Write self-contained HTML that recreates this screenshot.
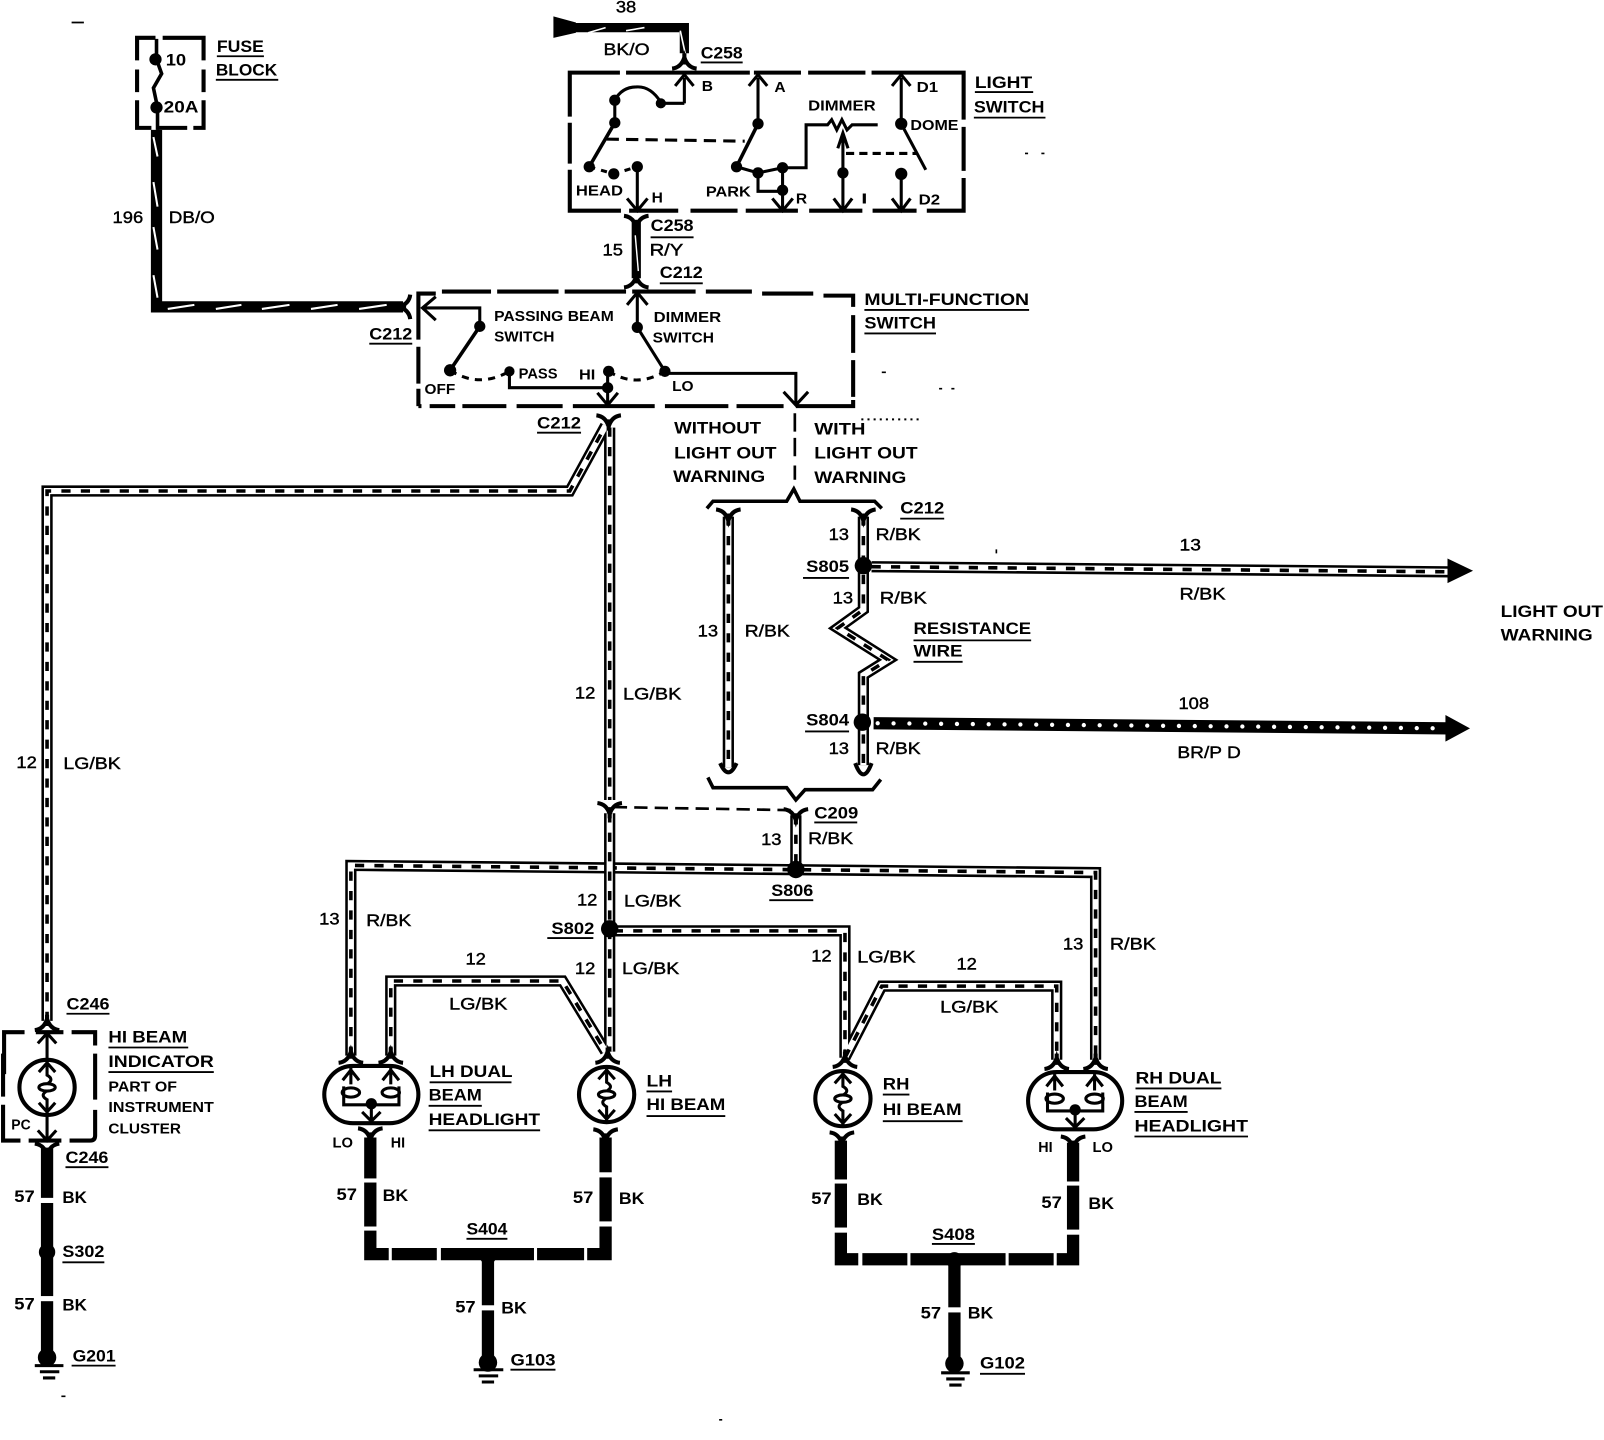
<!DOCTYPE html>
<html><head><meta charset="utf-8"><title>Headlight wiring diagram</title>
<style>
html,body{margin:0;padding:0;background:#fff}
svg{display:block}
text{font-family:"Liberation Sans",sans-serif;font-size:16.5px;font-weight:bold;fill:#000}
text.n{font-weight:normal;stroke:#000;stroke-width:.4}
text.s{font-size:14.5px}
</style></head><body>
<svg xmlns="http://www.w3.org/2000/svg" width="1604" height="1440" viewBox="0 0 1568 1407.7" preserveAspectRatio="none">
<defs>
<path id="cu" d="M-12 -7 Q-3 -6 0 4 Q3 -6 12 -7 M0 -3V8" fill="none" stroke="#000" stroke-width="4"/>
<g id="hb" fill="none" stroke="#000">
<ellipse rx="27" ry="27" stroke-width="4"/>
<path d="M0 -27 V-12 Q7 -8 1 -4 M0 27 V12 Q-7 8 -1 4" stroke-width="3"/>
<ellipse rx="8" ry="3.6" stroke-width="3"/>
<path d="M-8 -15 L0 -24 L8 -15 M-8 15 L0 24 L8 15" stroke-width="3"/>
</g>
<g id="dl" fill="none" stroke="#000">
<rect x="-46" y="-28" width="92" height="56" rx="28" stroke-width="4"/>
<path d="M-20 -26 V-10 M19 -26 V-10 M-28 -14 L-20 -24 L-12 -14 M11 -14 L19 -24 L27 -14" stroke-width="3"/>
<ellipse cx="-20" cy="-2" rx="8.5" ry="4.5" stroke-width="3"/>
<ellipse cx="19" cy="-2" rx="8.5" ry="4.5" stroke-width="3"/>
<path d="M-27 -8 V10 H27 V-8 M0 10 V27 M-9 17 L0 26 L9 17" stroke-width="3"/>
<circle cy="9" r="5.5" fill="#000" stroke="none"/>
</g>
<g id="hw1">
<path d="M343 1032 V846 L1071 853 V1036"/>
</g>
<g id="hw2">
<path d="M778 797 V848"/>
<path d="M46 998 V480 H557 L592 416"/>
<path d="M596 418 V782 M596 795 V1028"/>
<path d="M600 910 H826 V1034"/>
<path d="M382 1032 V959 H550 L592 1028"/>
<path d="M826 1034 L862 964 H1033 V1036"/>
<path d="M712 505 V750"/>
<path d="M844 505 V596 L819 614 L868 645 L844 660 V748"/>
<path d="M852 554 L1418 559"/>
</g>
</defs>
<rect width="1568" height="1408" fill="#fff"/>

<!-- hollow wires -->
<g fill="none">
<use href="#hw1" stroke="#000" stroke-width="11"/>
<use href="#hw1" stroke="#fff" stroke-width="6"/>
<use href="#hw1" stroke="#000" stroke-width="3.5" stroke-dasharray="9 10"/>
<use href="#hw2" stroke="#000" stroke-width="11"/>
<use href="#hw2" stroke="#fff" stroke-width="6"/>
<use href="#hw2" stroke="#000" stroke-width="3.5" stroke-dasharray="9 10"/>
</g>
<polygon points="1415,546 1440,558 1415,570" fill="#000"/>

<!-- 108 BR/PD -->
<path d="M854 707 L1416 712" stroke="#000" stroke-width="12" fill="none"/>
<path d="M858 707 L1412 712" stroke="#fff" stroke-width="4.2" stroke-linecap="round" stroke-dasharray="0 15.5" fill="none"/>
<polygon points="1413,699 1437,712 1413,725" fill="#000"/>

<!-- DB/O -->
<path d="M153 127 V300 H394" stroke="#000" stroke-width="11" fill="none"/>
<path d="M150 134 L154 153 M150 178 L154 202 M150 222 L154 244 M150 269 L154 291 M164 302 L190 298 M211 302 L236 298 M256 302 L283 298 M304 302 L330 298 M351 302 L378 298" stroke="#fff" stroke-width="2" fill="none"/>

<!-- BK/O -->
<polygon points="541,16 563,22 563,32 541,37" fill="#000"/>
<path d="M560 27 H669 V52" stroke="#000" stroke-width="9" fill="none"/>
<path d="M575 32 L592 27 M612 30 L630 27 M665 30 L670 53" stroke="#fff" stroke-width="1.6" fill="none"/>

<!-- R/Y 15 -->
<path d="M622 215 V272" stroke="#000" stroke-width="9" fill="none"/>
<path d="M621 230 L624 265" stroke="#fff" stroke-width="1.4"/>

<!-- black ground wires -->
<g fill="none" stroke="#000" stroke-width="12">
<path d="M46 1122 V1330"/>
<path d="M362 1112 V1226 H592 V1112"/>
<path d="M477 1226 V1328"/>
<path d="M822 1115 V1231 H1049 V1117"/>
<path d="M933 1231 V1333"/>
</g>
<g fill="#fff">
<rect x="36" y="1171" width="20" height="5"/><rect x="36" y="1267" width="20" height="5"/>
<rect x="350" y="1152" width="24" height="4"/><rect x="350" y="1199" width="24" height="4"/>
<rect x="380" y="1216" width="3" height="20"/><rect x="427" y="1216" width="4" height="20"/><rect x="522" y="1216" width="3" height="20"/><rect x="571" y="1216" width="3" height="20"/>
<rect x="582" y="1146" width="22" height="5"/><rect x="582" y="1194" width="22" height="5"/>
<rect x="467" y="1276" width="20" height="5"/>
<rect x="812" y="1153" width="22" height="4"/><rect x="812" y="1200" width="22" height="5"/>
<rect x="839" y="1222" width="4" height="20"/><rect x="887" y="1222" width="3" height="20"/><rect x="983" y="1222" width="3" height="20"/><rect x="1030" y="1222" width="3" height="20"/>
<rect x="1039" y="1155" width="22" height="4"/><rect x="1039" y="1202" width="22" height="5"/>
<rect x="923" y="1278" width="20" height="5"/>
</g>

<!-- splices and ground dots -->
<g fill="#000">
<circle cx="844" cy="553" r="8.5"/><circle cx="843" cy="706" r="8.5"/>
<circle cx="778" cy="850" r="8.5"/><circle cx="596" cy="908" r="8.5"/>
<circle cx="46" cy="1224" r="8"/><circle cx="477" cy="1228" r="8"/><circle cx="933" cy="1232" r="8"/>
<circle cx="46" cy="1327" r="9"/><circle cx="477" cy="1332" r="9"/><circle cx="933" cy="1333" r="9"/>
</g>
<path d="M34 1335 H62 M39 1341 H58 M42 1347 H54 M463 1339 H492 M468 1345 H487 M471 1351 H483 M920 1342 H948 M925 1348 H943 M928 1354 H940" stroke="#000" stroke-width="3" fill="none"/>

<!-- connectors -->
<use href="#cu" transform="translate(669,60) rotate(180)"/>
<use href="#cu" transform="translate(622,218)"/>
<use href="#cu" transform="translate(622,274) rotate(180)"/>
<use href="#cu" transform="translate(394,300) rotate(90)"/>
<use href="#cu" transform="translate(595,413)"/>
<use href="#cu" transform="translate(712,505)"/>
<use href="#cu" transform="translate(844,505)"/>
<path d="M704 746 Q708 755 712 755 Q716 755 720 746 M836 746 Q840 757 844 757 Q848 757 852 746" stroke="#000" stroke-width="4" fill="none"/>
<use href="#cu" transform="translate(778,798)"/>
<use href="#cu" transform="translate(596,792)"/>
<use href="#cu" transform="translate(46,1000) rotate(180)"/>
<use href="#cu" transform="translate(46,1125)"/>
<use href="#cu" transform="translate(343,1032) rotate(180)"/>
<use href="#cu" transform="translate(382,1032) rotate(180)"/>
<use href="#cu" transform="translate(594,1032) rotate(180)"/>
<use href="#cu" transform="translate(826,1036) rotate(180)"/>
<use href="#cu" transform="translate(1033,1038) rotate(180)"/>
<use href="#cu" transform="translate(1071,1038) rotate(180)"/>
<use href="#cu" transform="translate(362,1110)"/>
<use href="#cu" transform="translate(592,1111)"/>
<use href="#cu" transform="translate(823,1114)"/>
<use href="#cu" transform="translate(1049,1118)"/>
<path d="M600 789 L776 792" stroke="#000" stroke-width="2.6" stroke-dasharray="13 7" fill="none"/>

<!-- braces + divider -->
<g fill="none" stroke="#000" stroke-width="3.5">
<path d="M691 497 L697 490 H769 L776 478 L782 490 H855 L862 497"/>
<path d="M692 760 L697 770 H769 L778 782 L787 772 H853 L861 762"/>
</g>
<path d="M777 404 V422 M777 428 V446 M777 455 V469" stroke="#000" stroke-width="2.6" fill="none"/>

<!-- fuse block -->
<g fill="none" stroke="#000" stroke-width="4">
<path d="M134 59 V37 H152 M159 37 H199 V59 M134 68 V90 M199 68 V90 M134 98 V125 H148 M153 125 H183 M189 125 H199 V98"/>
</g>
<path d="M153 38 V58 L158 72 L150 86 L154 105 V127" stroke="#000" stroke-width="3.5" fill="none"/>
<circle cx="152" cy="58" r="6"/><circle cx="153" cy="105" r="6"/>

<!-- light switch -->
<g fill="none" stroke="#000" stroke-width="4">
<path d="M557 114 V71 H606 M612 71 H733 M737 71 H783 M790 71 H846 M852 71 H942 V117 M557 120 V160 M557 166 V206 H607 M615 206 H663 M675 206 H721 M729 206 H780 M791 206 H843 M853 206 H896 M906 206 H942 V174 M942 124 V167"/>
</g>
<g fill="none" stroke="#000" stroke-width="3">
<path d="M669 101 V76 M660 84 L669 73 L678 84 M646 101 H669 M646 100 Q636 84 622 85 Q608 85 601 98 V120"/>
<path d="M601 120 L576 163" stroke-width="3.5"/>
<path d="M593 136 L728 138" stroke-dasharray="12 7"/>
<path d="M576 163 L600 170 L623 163" stroke-dasharray="6 6"/>
<path d="M623 163 V204 M613 194 L623 206 L633 194"/>
<path d="M741 76 V121 M732 84 L741 73 L750 84"/>
<path d="M741 121 L720 163" stroke-width="3.5"/>
<path d="M720 163 L741 169 V187 H765 M741 169 L765 164" />
<path d="M765 164 V204 M755 194 L765 206 L775 194"/>
<path d="M765 164 H788 V122 H809 L813 117 L818 127 L823 117 L828 127 L833 122 H858"/>
<path d="M824 130 V204 M815 194 L824 206 L833 194 M819 145 L824 130 L829 145"/>
<path d="M827 150 H897" stroke-dasharray="8 5"/>
<path d="M881 76 V121 M872 84 L881 73 L890 84"/>
<path d="M881 121 L905 166" stroke-width="3"/>
<path d="M881 170 V204 M872 194 L881 206 L890 194"/>
</g>
<g fill="#000">
<circle cx="646" cy="101" r="5"/><circle cx="601" cy="98" r="5.5"/><circle cx="601" cy="120" r="5.5"/>
<circle cx="576" cy="163" r="5.5"/><circle cx="600" cy="170" r="5.5"/><circle cx="623" cy="163" r="5.5"/>
<circle cx="741" cy="121" r="5.5"/><circle cx="720" cy="163" r="5.5"/><circle cx="741" cy="169" r="5.5"/>
<circle cx="765" cy="164" r="5.5"/><circle cx="765" cy="186" r="5.5"/><circle cx="824" cy="169" r="5.5"/>
<circle cx="881" cy="121" r="6"/><circle cx="881" cy="170" r="6"/>
</g>

<!-- multi-function switch -->
<g fill="none" stroke="#000" stroke-width="4">
<path d="M409 332 V287 H426 M432 285 H480 M486 285 H546 M552 285 H612 M618 285 H680 M690 285 H735 M745 287 H795 M805 289 H834 V300 M834 308 V345 M834 352 V388 M834 391 V397 H778 M766 397 H720 M712 397 H650 M640 397 H560 M550 397 H505 M495 397 H452 M445 397 H420 M409 397 H412 M409 339 V375 M409 380 V397"/>
</g>
<g fill="none" stroke="#000" stroke-width="3">
<path d="M414 301 H469 V319 M426 290 L413 301 L426 313"/>
<path d="M469 319 L440 362" stroke-width="3.5"/>
<path d="M440 362 Q468 380 498 363" stroke-dasharray="7 6"/>
<path d="M498 363 V379 H594"/>
<path d="M594 363 V395 M584 384 L594 396 L604 384"/>
<path d="M595 363 Q622 380 650 363" stroke-dasharray="7 6"/>
<path d="M650 363 L623 320" stroke-width="3"/>
<path d="M623 320 V288 M613 298 L623 286 L633 298"/>
<path d="M650 365 H778 V395 M766 383 L778 396 L790 383"/>
</g>
<g fill="#000">
<circle cx="469" cy="319" r="5.5"/><circle cx="440" cy="362" r="6"/><circle cx="498" cy="363" r="5"/>
<circle cx="595" cy="363" r="5.5"/><circle cx="594" cy="379" r="5.5"/><circle cx="650" cy="363" r="5.5"/><circle cx="623" cy="320" r="5.5"/>
</g>

<!-- lamps -->
<g fill="none" stroke="#000" stroke-width="4">
<path d="M4 1050 V1009 H24 M35 1009 H62 M70 1009 H93 V1022 M93 1030 V1075 M93 1085 V1110 Q93 1115 88 1115 H68 M60 1115 H28 M20 1115 H3 V1080 M3 1030 V1072"/>
</g>
<use href="#hb" transform="translate(46,1063)"/>
<path d="M46 1012 V1036 M46 1090 V1114 M37 1020 L46 1010 L55 1020 M37 1105 L46 1115 L55 1105" stroke="#000" stroke-width="3" fill="none"/>
<use href="#dl" transform="translate(363,1070)"/>
<use href="#hb" transform="translate(593,1070)"/>
<use href="#hb" transform="translate(824,1074)"/>
<use href="#dl" transform="translate(1051,1076)"/>

<!-- specks -->
<path d="M70 22 H82 M974 537 V541 M703 1388 H706 M60 1365 H64 M1002 150 H1005 M1018 150 H1021 M862 364 H866 M918 380 H921 M930 380 H933" stroke="#000" stroke-width="1.6" fill="none"/>
<path d="M842 410 H898" stroke="#000" stroke-width="2" stroke-dasharray="2 4" fill="none"/>

<!-- labels -->
<text x="212" y="51" textLength="46" lengthAdjust="spacingAndGlyphs">FUSE</text>
<rect x="205" y="30" width="60" height="9" fill="#fff"/>
<text x="211" y="74" textLength="60" lengthAdjust="spacingAndGlyphs">BLOCK</text>
<text x="162" y="64" textLength="20" lengthAdjust="spacingAndGlyphs">10</text>
<text x="160" y="110" textLength="34" lengthAdjust="spacingAndGlyphs">20A</text>
<text class="n" x="110" y="218" textLength="30" lengthAdjust="spacingAndGlyphs">196</text>
<text class="n" x="165" y="218" textLength="45" lengthAdjust="spacingAndGlyphs">DB/O</text>
<text class="n" x="602" y="12" textLength="20" lengthAdjust="spacingAndGlyphs">38</text>
<text class="n" x="590" y="54" textLength="45" lengthAdjust="spacingAndGlyphs">BK/O</text>
<text x="685" y="57" textLength="41" lengthAdjust="spacingAndGlyphs">C258</text>
<text x="953" y="86" textLength="56" lengthAdjust="spacingAndGlyphs">LIGHT</text>
<text x="952" y="110" textLength="69" lengthAdjust="spacingAndGlyphs">SWITCH</text>
<text class="s" x="686" y="89" textLength="11" lengthAdjust="spacingAndGlyphs">B</text>
<text class="s" x="757" y="90" textLength="11" lengthAdjust="spacingAndGlyphs">A</text>
<text class="s" x="896" y="90" textLength="21" lengthAdjust="spacingAndGlyphs">D1</text>
<text class="s" x="790" y="108" textLength="66" lengthAdjust="spacingAndGlyphs">DIMMER</text>
<text class="s" x="890" y="127" textLength="47" lengthAdjust="spacingAndGlyphs">DOME</text>
<text class="s" x="563" y="191" textLength="46" lengthAdjust="spacingAndGlyphs">HEAD</text>
<text class="s" x="637" y="198" textLength="11" lengthAdjust="spacingAndGlyphs">H</text>
<text class="s" x="690" y="192" textLength="44" lengthAdjust="spacingAndGlyphs">PARK</text>
<text class="s" x="778" y="199" textLength="11" lengthAdjust="spacingAndGlyphs">R</text>
<text class="s" x="842" y="199" textLength="6" lengthAdjust="spacingAndGlyphs">I</text>
<text class="s" x="898" y="200" textLength="21" lengthAdjust="spacingAndGlyphs">D2</text>
<text x="636" y="226" textLength="42" lengthAdjust="spacingAndGlyphs">C258</text>
<text class="n" x="589" y="250" textLength="20" lengthAdjust="spacingAndGlyphs">15</text>
<text class="n" x="635" y="250" textLength="33" lengthAdjust="spacingAndGlyphs">R/Y</text>
<text x="645" y="272" textLength="42" lengthAdjust="spacingAndGlyphs">C212</text>
<text x="845" y="298" textLength="161" lengthAdjust="spacingAndGlyphs">MULTI-FUNCTION</text>
<text x="845" y="321" textLength="70" lengthAdjust="spacingAndGlyphs">SWITCH</text>
<text x="361" y="332" textLength="42" lengthAdjust="spacingAndGlyphs">C212</text>
<text class="s" x="483" y="314" textLength="117" lengthAdjust="spacingAndGlyphs">PASSING BEAM</text>
<text class="s" x="483" y="334" textLength="59" lengthAdjust="spacingAndGlyphs">SWITCH</text>
<text class="s" x="639" y="315" textLength="66" lengthAdjust="spacingAndGlyphs">DIMMER</text>
<text class="s" x="638" y="335" textLength="60" lengthAdjust="spacingAndGlyphs">SWITCH</text>
<text class="s" x="415" y="385" textLength="30" lengthAdjust="spacingAndGlyphs">OFF</text>
<text class="s" x="507" y="370" textLength="38" lengthAdjust="spacingAndGlyphs">PASS</text>
<text class="s" x="566" y="371" textLength="16" lengthAdjust="spacingAndGlyphs">HI</text>
<text class="s" x="657" y="382" textLength="21" lengthAdjust="spacingAndGlyphs">LO</text>
<text x="525" y="419" textLength="43" lengthAdjust="spacingAndGlyphs">C212</text>
<text x="659" y="424" textLength="85" lengthAdjust="spacingAndGlyphs">WITHOUT</text>
<text x="659" y="448" textLength="100" lengthAdjust="spacingAndGlyphs">LIGHT OUT</text>
<text x="658" y="471" textLength="90" lengthAdjust="spacingAndGlyphs">WARNING</text>
<text x="796" y="425" textLength="50" lengthAdjust="spacingAndGlyphs">WITH</text>
<text x="796" y="448" textLength="101" lengthAdjust="spacingAndGlyphs">LIGHT OUT</text>
<text x="796" y="472" textLength="90" lengthAdjust="spacingAndGlyphs">WARNING</text>
<text x="880" y="502" textLength="43" lengthAdjust="spacingAndGlyphs">C212</text>
<text class="n" x="810" y="528" textLength="20" lengthAdjust="spacingAndGlyphs">13</text>
<text class="n" x="856" y="528" textLength="44" lengthAdjust="spacingAndGlyphs">R/BK</text>
<text class="n" x="1153" y="538" textLength="21" lengthAdjust="spacingAndGlyphs">13</text>
<text class="n" x="1153" y="586" textLength="45" lengthAdjust="spacingAndGlyphs">R/BK</text>
<text x="788" y="559" textLength="42" lengthAdjust="spacingAndGlyphs">S805</text>
<text class="n" x="814" y="590" textLength="20" lengthAdjust="spacingAndGlyphs">13</text>
<text class="n" x="860" y="590" textLength="46" lengthAdjust="spacingAndGlyphs">R/BK</text>
<text x="893" y="620" textLength="115" lengthAdjust="spacingAndGlyphs">RESISTANCE</text>
<text x="893" y="642" textLength="48" lengthAdjust="spacingAndGlyphs">WIRE</text>
<text x="1467" y="603" textLength="100" lengthAdjust="spacingAndGlyphs">LIGHT OUT</text>
<text x="1467" y="626" textLength="90" lengthAdjust="spacingAndGlyphs">WARNING</text>
<text class="n" x="682" y="622" textLength="20" lengthAdjust="spacingAndGlyphs">13</text>
<text class="n" x="728" y="622" textLength="44" lengthAdjust="spacingAndGlyphs">R/BK</text>
<text class="n" x="562" y="683" textLength="20" lengthAdjust="spacingAndGlyphs">12</text>
<text class="n" x="609" y="684" textLength="57" lengthAdjust="spacingAndGlyphs">LG/BK</text>
<text class="n" x="16" y="751" textLength="20" lengthAdjust="spacingAndGlyphs">12</text>
<text class="n" x="62" y="752" textLength="56" lengthAdjust="spacingAndGlyphs">LG/BK</text>
<text class="n" x="1152" y="693" textLength="30" lengthAdjust="spacingAndGlyphs">108</text>
<text class="n" x="1151" y="741" textLength="62" lengthAdjust="spacingAndGlyphs">BR/P D</text>
<text x="788" y="709" textLength="42" lengthAdjust="spacingAndGlyphs">S804</text>
<text class="n" x="810" y="737" textLength="20" lengthAdjust="spacingAndGlyphs">13</text>
<text class="n" x="856" y="737" textLength="44" lengthAdjust="spacingAndGlyphs">R/BK</text>
<text x="796" y="800" textLength="43" lengthAdjust="spacingAndGlyphs">C209</text>
<text class="n" x="744" y="826" textLength="20" lengthAdjust="spacingAndGlyphs">13</text>
<text class="n" x="790" y="825" textLength="44" lengthAdjust="spacingAndGlyphs">R/BK</text>
<text x="754" y="876" textLength="41" lengthAdjust="spacingAndGlyphs">S806</text>
<text class="n" x="564" y="885" textLength="20" lengthAdjust="spacingAndGlyphs">12</text>
<text class="n" x="610" y="886" textLength="56" lengthAdjust="spacingAndGlyphs">LG/BK</text>
<text x="539" y="913" textLength="42" lengthAdjust="spacingAndGlyphs">S802</text>
<text class="n" x="312" y="904" textLength="20" lengthAdjust="spacingAndGlyphs">13</text>
<text class="n" x="358" y="905" textLength="44" lengthAdjust="spacingAndGlyphs">R/BK</text>
<text class="n" x="455" y="943" textLength="20" lengthAdjust="spacingAndGlyphs">12</text>
<text class="n" x="439" y="987" textLength="57" lengthAdjust="spacingAndGlyphs">LG/BK</text>
<text class="n" x="562" y="952" textLength="20" lengthAdjust="spacingAndGlyphs">12</text>
<text class="n" x="608" y="952" textLength="56" lengthAdjust="spacingAndGlyphs">LG/BK</text>
<text class="n" x="793" y="940" textLength="20" lengthAdjust="spacingAndGlyphs">12</text>
<text class="n" x="838" y="941" textLength="57" lengthAdjust="spacingAndGlyphs">LG/BK</text>
<text class="n" x="935" y="948" textLength="20" lengthAdjust="spacingAndGlyphs">12</text>
<text class="n" x="919" y="990" textLength="57" lengthAdjust="spacingAndGlyphs">LG/BK</text>
<text class="n" x="1039" y="928" textLength="20" lengthAdjust="spacingAndGlyphs">13</text>
<text class="n" x="1085" y="928" textLength="45" lengthAdjust="spacingAndGlyphs">R/BK</text>
<text x="65" y="987" textLength="42" lengthAdjust="spacingAndGlyphs">C246</text>
<text x="106" y="1019" textLength="77" lengthAdjust="spacingAndGlyphs">HI BEAM</text>
<text x="106" y="1043" textLength="103" lengthAdjust="spacingAndGlyphs">INDICATOR</text>
<text class="s" x="106" y="1067" textLength="67" lengthAdjust="spacingAndGlyphs">PART OF</text>
<text class="s" x="106" y="1087" textLength="103" lengthAdjust="spacingAndGlyphs">INSTRUMENT</text>
<text class="s" x="106" y="1108" textLength="71" lengthAdjust="spacingAndGlyphs">CLUSTER</text>
<text class="s" x="11" y="1104" textLength="19" lengthAdjust="spacingAndGlyphs">PC</text>
<text x="64" y="1137" textLength="42" lengthAdjust="spacingAndGlyphs">C246</text>
<text x="420" y="1053" textLength="81" lengthAdjust="spacingAndGlyphs">LH DUAL</text>
<text x="419" y="1076" textLength="52" lengthAdjust="spacingAndGlyphs">BEAM</text>
<text x="419" y="1100" textLength="109" lengthAdjust="spacingAndGlyphs">HEADLIGHT</text>
<text x="632" y="1062" textLength="25" lengthAdjust="spacingAndGlyphs">LH</text>
<text x="632" y="1085" textLength="77" lengthAdjust="spacingAndGlyphs">HI BEAM</text>
<text x="863" y="1065" textLength="26" lengthAdjust="spacingAndGlyphs">RH</text>
<text x="863" y="1090" textLength="77" lengthAdjust="spacingAndGlyphs">HI BEAM</text>
<text x="1110" y="1059" textLength="84" lengthAdjust="spacingAndGlyphs">RH DUAL</text>
<text x="1109" y="1082" textLength="52" lengthAdjust="spacingAndGlyphs">BEAM</text>
<text x="1109" y="1106" textLength="111" lengthAdjust="spacingAndGlyphs">HEADLIGHT</text>
<text class="s" x="325" y="1122" textLength="20" lengthAdjust="spacingAndGlyphs">LO</text>
<text class="s" x="382" y="1122" textLength="14" lengthAdjust="spacingAndGlyphs">HI</text>
<text class="s" x="1015" y="1126" textLength="14" lengthAdjust="spacingAndGlyphs">HI</text>
<text class="s" x="1068" y="1126" textLength="20" lengthAdjust="spacingAndGlyphs">LO</text>
<text x="14" y="1175" textLength="20" lengthAdjust="spacingAndGlyphs">57</text>
<text x="61" y="1176" textLength="24" lengthAdjust="spacingAndGlyphs">BK</text>
<text x="61" y="1229" textLength="41" lengthAdjust="spacingAndGlyphs">S302</text>
<text x="14" y="1280" textLength="20" lengthAdjust="spacingAndGlyphs">57</text>
<text x="61" y="1281" textLength="24" lengthAdjust="spacingAndGlyphs">BK</text>
<text x="71" y="1331" textLength="42" lengthAdjust="spacingAndGlyphs">G201</text>
<text x="329" y="1173" textLength="20" lengthAdjust="spacingAndGlyphs">57</text>
<text x="374" y="1174" textLength="25" lengthAdjust="spacingAndGlyphs">BK</text>
<text x="560" y="1176" textLength="20" lengthAdjust="spacingAndGlyphs">57</text>
<text x="605" y="1177" textLength="25" lengthAdjust="spacingAndGlyphs">BK</text>
<text x="456" y="1207" textLength="40" lengthAdjust="spacingAndGlyphs">S404</text>
<text x="445" y="1283" textLength="20" lengthAdjust="spacingAndGlyphs">57</text>
<text x="490" y="1284" textLength="25" lengthAdjust="spacingAndGlyphs">BK</text>
<text x="499" y="1335" textLength="44" lengthAdjust="spacingAndGlyphs">G103</text>
<text x="793" y="1177" textLength="20" lengthAdjust="spacingAndGlyphs">57</text>
<text x="838" y="1178" textLength="25" lengthAdjust="spacingAndGlyphs">BK</text>
<text x="1018" y="1181" textLength="20" lengthAdjust="spacingAndGlyphs">57</text>
<text x="1064" y="1182" textLength="25" lengthAdjust="spacingAndGlyphs">BK</text>
<text x="911" y="1212" textLength="42" lengthAdjust="spacingAndGlyphs">S408</text>
<text x="900" y="1289" textLength="20" lengthAdjust="spacingAndGlyphs">57</text>
<text x="946" y="1289" textLength="25" lengthAdjust="spacingAndGlyphs">BK</text>
<text x="958" y="1338" textLength="44" lengthAdjust="spacingAndGlyphs">G102</text>

<!-- underlines -->
<path stroke="#000" stroke-width="1.8" fill="none" d="M212 55H258 M211 78H272 M685 61H726 M953 90H1010 M952 115H1022 M636 232H678 M645 277H687 M845 303H1006 M845 326H915 M361 336H403 M525 423H568 M880 507H923 M785 565H830 M893 626H1008 M893 647H941 M787 715H830 M796 804H838 M752 880H795 M535 917H580 M65 991H107 M106 1024H184 M106 1048H209 M64 1141H106 M420 1058H500 M419 1081H471 M419 1105H528 M632 1067H657 M632 1091H709 M863 1070H889 M863 1096H941 M1110 1064H1194 M1109 1087H1161 M1109 1111H1220 M61 1234H102 M70 1335H113 M456 1211H496 M499 1339H543 M911 1216H953 M958 1343H1002"/>
</svg>
</body></html>
